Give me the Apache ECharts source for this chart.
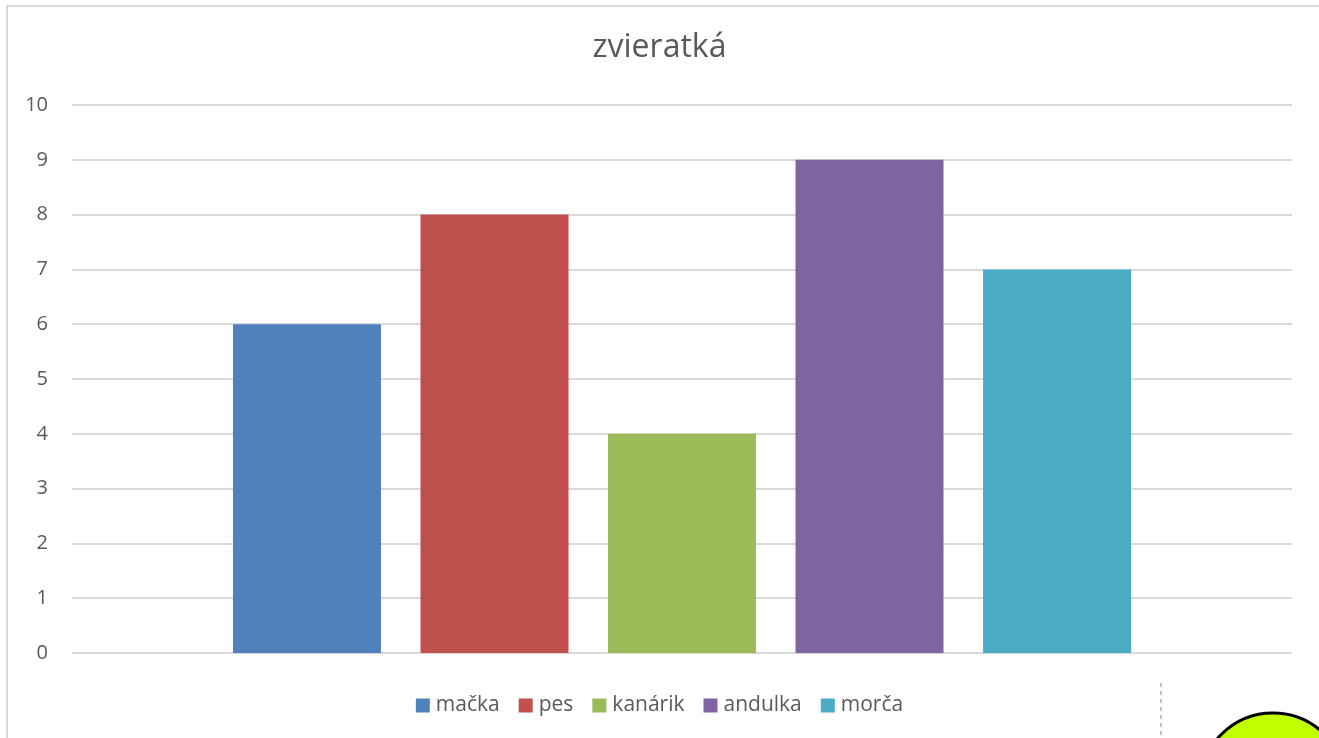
<!DOCTYPE html>
<html>
<head>
<meta charset="utf-8">
<style>
  html, body { margin: 0; padding: 0; background: #fff; }
  #chart { width: 1319px; height: 738px; }
</style>
<script src="https://cdn.jsdelivr.net/npm/echarts@6/dist/echarts.min.js"></script>
</head>
<body>
<div id="chart"></div>
<script>
// data
var categories = [''];
var seriesNames = ['mačka', 'pes', 'kanárik', 'andulka', 'morča'];
var seriesValues = [6, 8, 4, 9, 7];
var seriesColors = ['#4F81BD', '#C0504D', '#9BBB59', '#8064A2', '#4BACC6'];
var yTicks = [0, 1, 2, 3, 4, 5, 6, 7, 8, 9, 10];

var myChart = echarts.init(document.getElementById('chart'));

var series = seriesNames.map(function (name, i) {
    return {
        name: name,
        type: 'bar',
        data: [seriesValues[i]],
        barWidth: 148,
        barGap: '26.7%',
        itemStyle: { color: seriesColors[i] }
    };
});

var option = {
    animation: false,
    color: seriesColors,
    textStyle: { fontFamily: 'Open Sans, Noto Sans, sans-serif' },
    title: {
        text: 'zvieratká',
        left: 'center',
        top: 27,
        textStyle: { fontSize: 32, fontWeight: 'normal', color: '#595959' }
    },
    legend: {
        bottom: 17,
        left: 'center',
        icon: 'rect',
        itemWidth: 14,
        itemHeight: 14,
        itemGap: 19,
        textStyle: { fontSize: 21, color: '#595959', padding: [0, 0, 0, 1] },
        data: seriesNames
    },
    grid: { left: 72, right: 27, top: 105, bottom: 85, containLabel: false },
    xAxis: {
        type: 'category',
        data: categories,
        axisLine: { show: false },
        axisTick: { show: false },
        axisLabel: { show: false }
    },
    yAxis: {
        type: 'value',
        min: yTicks[0],
        max: yTicks[yTicks.length - 1],
        interval: 1,
        axisLine: { show: false },
        axisTick: { show: false },
        axisLabel: { fontSize: 20, color: '#595959', margin: 24 },
        splitLine: { lineStyle: { color: '#D9D9D9', width: 2 } }
    },
    series: series,
    graphic: [
        {
            type: 'rect',
            shape: { x: 7, y: 6, width: 1400, height: 800 },
            style: { fill: 'none', stroke: '#D9D9D9', lineWidth: 2 },
            silent: true
        },
        {
            type: 'line',
            shape: { x1: 1161, y1: 683, x2: 1161, y2: 740 },
            style: { stroke: '#BFBFBF', lineWidth: 2, lineDash: [4, 4] },
            silent: true
        },
        {
            type: 'circle',
            shape: { cx: 1273, cy: 786, r: 73 },
            style: { fill: '#BFFF00', stroke: '#000', lineWidth: 3 },
            silent: true
        }
    ]
};

myChart.setOption(option, true);
</script>
</body>
</html>
